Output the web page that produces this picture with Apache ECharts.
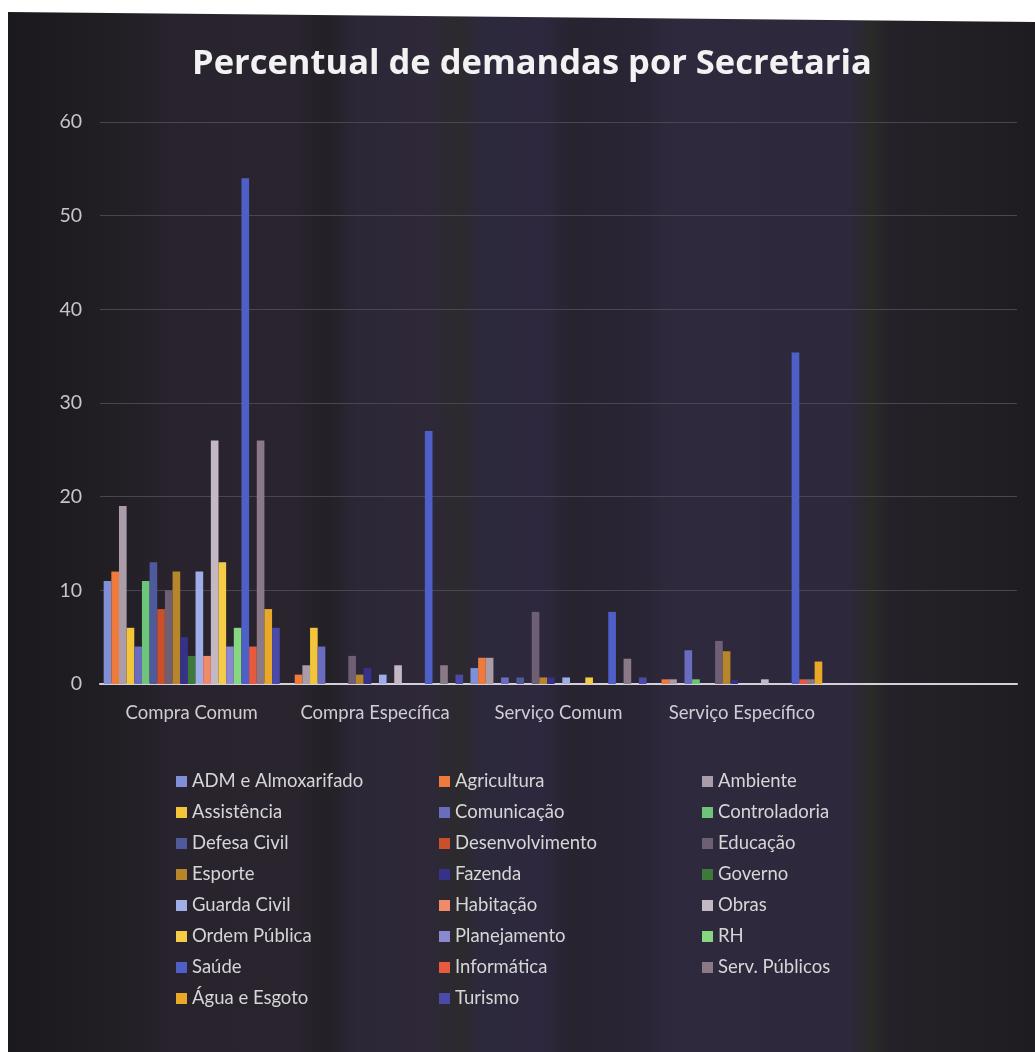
<!DOCTYPE html>
<html>
<head>
<meta charset="utf-8">
<script src="https://cdn.jsdelivr.net/npm/echarts@6/dist/echarts.min.js"></script>
<style>
html,body{margin:0;padding:0;background:#ffffff;}
#chart{width:1035px;height:1052px;}
</style>
</head>
<body>
<div id="chart"></div>
<script>
const titleText = 'Percentual de demandas por Secretaria';
const categories = ['Compra Comum', 'Compra Específica', 'Serviço Comum', 'Serviço Específico', ''];
const yTicks = { min: 0, max: 60, interval: 10 };

const seriesNames = ['ADM e Almoxarifado','Agricultura','Ambiente','Assistência','Comunicação','Controladoria','Defesa Civil','Desenvolvimento','Educação','Esporte','Fazenda','Governo','Guarda Civil','Habitação','Obras','Ordem Pública','Planejamento','RH','Saúde','Informática','Serv. Públicos','Água e Esgoto','Turismo'];

const admAlmoxarifado = [11, 0, 1.7, 0, null];
const agricultura     = [12, 1, 2.8, 0.5, null];
const ambiente        = [19, 2, 2.8, 0.5, null];
const assistencia     = [6, 6, 0, 0, null];
const comunicacao     = [4, 4, 0.7, 3.6, null];
const controladoria   = [11, 0, 0, 0.5, null];
const defesaCivil     = [13, 0, 0.7, 0, null];
const desenvolvimento = [8, 0, 0, 0, null];
const educacao        = [10, 3, 7.7, 4.6, null];
const esporte         = [12, 1, 0.7, 3.5, null];
const fazenda         = [5, 1.7, 0.7, 0.4, null];
const governo         = [3, 0, 0, 0, null];
const guardaCivil     = [12, 1, 0.7, 0, null];
const habitacao       = [3, 0, 0, 0, null];
const obras           = [26, 2, 0, 0.5, null];
const ordemPublica    = [13, 0, 0.7, 0, null];
const planejamento    = [4, 0, 0, 0, null];
const rh              = [6, 0, 0, 0, null];
const saude           = [54, 27, 7.7, 35.4, null];
const informatica     = [4, 0, 0, 0.5, null];
const servPublicos    = [26, 2, 2.7, 0.5, null];
const aguaEsgoto      = [8, 0, 0, 2.4, null];
const turismo         = [6, 1, 0.7, 0, null];

const seriesValues = [admAlmoxarifado, agricultura, ambiente, assistencia, comunicacao, controladoria, defesaCivil, desenvolvimento, educacao, esporte, fazenda, governo, guardaCivil, habitacao, obras, ordemPublica, planejamento, rh, saude, informatica, servPublicos, aguaEsgoto, turismo];

const seriesColors = ['#7f90d8','#ee7a3c','#aa9ca8','#f2c53a','#6a6cc0','#6dc57a','#4e5a9c','#c9502a','#6e5f74','#b8862a','#36328a','#3d7a3a','#a0aee8','#f08a68','#c4b8c4','#f4cc48','#8a88d0','#86d880','#4e60c8','#e85a40','#8a7a88','#e8a828','#4a4aa8'];

const chart = echarts.init(document.getElementById('chart'), null, { renderer: 'canvas' });

const bgGradient = new echarts.graphic.LinearGradient(0, 0, 1, 0, [
  { offset: 0.00, color: '#1b191d' },
  { offset: 0.10, color: '#211e24' },
  { offset: 0.16, color: '#28232d' },
  { offset: 0.28, color: '#29242e' },
  { offset: 0.31, color: '#232026' },
  { offset: 0.34, color: '#2c2737' },
  { offset: 0.41, color: '#2e2839' },
  { offset: 0.44, color: '#2c2a2c' },
  { offset: 0.46, color: '#2d293c' },
  { offset: 0.52, color: '#2d283d' },
  { offset: 0.55, color: '#28232f' },
  { offset: 0.62, color: '#2a2535' },
  { offset: 0.65, color: '#2e293d' },
  { offset: 0.82, color: '#2d283b' },
  { offset: 0.84, color: '#292a28' },
  { offset: 0.86, color: '#252128' },
  { offset: 1.00, color: '#1f1c21' }
]);

const option = {
  backgroundColor: '#ffffff',
  animation: false,
  color: seriesColors,
  graphic: [{
    type: 'polygon',
    z: -10,
    silent: true,
    shape: { points: [[8, 12], [1035, 22], [1035, 1052], [8, 1052]] },
    style: { fill: bgGradient }
  }],
  title: {
    text: titleText,
    left: 187,
    top: 42,
    textStyle: { color: '#f2f2f2', fontSize: 34.5, fontWeight: 'bold', fontFamily: 'Open Sans' }
  },
  grid: { left: 100, right: 18, top: 122, bottom: 368, containLabel: false },
  legend: {
    data: seriesNames,
    left: 171,
    top: 766,
    width: 800,
    itemWidth: 11,
    itemHeight: 11,
    itemGap: 10,
    icon: 'rect',
    textStyle: { color: '#d6d6d6', fontSize: 18.5, fontFamily: 'Lato', width: 237, lineHeight: 21, overflow: 'none' }
  },
  xAxis: {
    type: 'category',
    data: categories,
    axisLine: { lineStyle: { color: '#d4d0d8', width: 2 } },
    axisTick: { show: false },
    axisLabel: { color: '#d0ccd4', fontSize: 18.5, fontFamily: 'Lato', margin: 20, interval: 0 }
  },
  yAxis: {
    type: 'value',
    min: yTicks.min,
    max: yTicks.max,
    interval: yTicks.interval,
    axisLine: { show: false },
    axisTick: { show: false },
    axisLabel: { color: '#c8c4cc', fontSize: 19.5, fontFamily: 'Lato', margin: 18 },
    splitLine: { lineStyle: { color: '#4a4650', width: 1 } }
  },
  series: seriesNames.map((name, i) => ({
    name: name,
    type: 'bar',
    data: seriesValues[i],
    barGap: '0%',
    barCategoryGap: '4%',
    itemStyle: { color: seriesColors[i] }
  }))
};

chart.setOption(option);
</script>
</body>
</html>
